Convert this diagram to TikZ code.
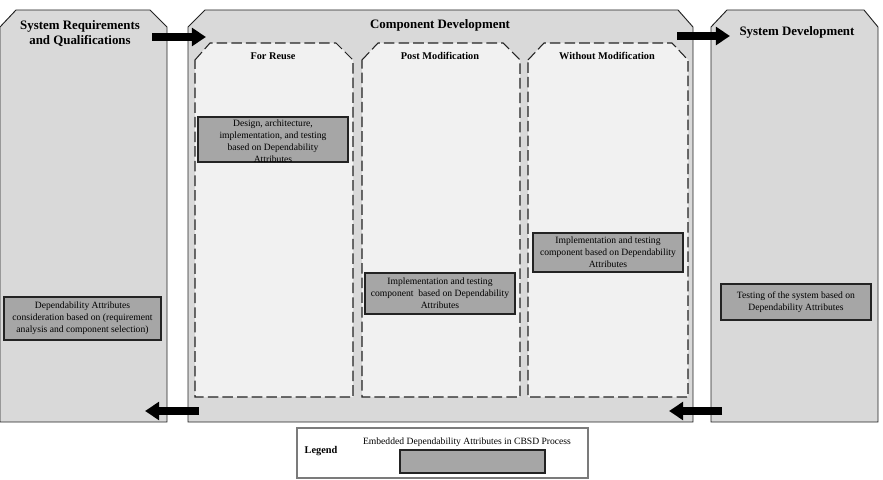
\documentclass[tikz,border=0pt]{standalone}
\usepackage{fontspec}
\setmainfont{Liberation Serif}
\usetikzlibrary{arrows.meta,positioning}
\definecolor{panelgray}{RGB}{217,217,217}
\definecolor{subgray}{RGB}{241,241,241}
\definecolor{attrgray}{RGB}{166,166,166}
\definecolor{edgegray}{RGB}{35,35,35}

\begin{document}
\begin{tikzpicture}[
  x=0.03cm, y=-0.03cm,
  panel/.style={draw=edgegray, line width=0.8pt, fill=panelgray},
  subpanel/.style={draw=edgegray, line width=0.9pt, fill=subgray, dash pattern=on 9pt off 3.5pt},
  title/.style={font=\bfseries\fontsize{11}{13}\selectfont, align=center},
  subtitle/.style={font=\bfseries\fontsize{8.8}{10}\selectfont},
  attr/.style={draw=edgegray, line width=0.9pt, fill=attrgray, inner sep=0pt},
  attrtext/.style={align=center, font=\fontsize{8.2}{10.3}\selectfont},
  flow/.style={-{Triangle[length=12pt,width=15pt]}, line width=7.5pt}
]
\useasboundingbox (0,0) rectangle (883,480);

% three stages
\draw[panel] (0,27) -- (16,10) -- (150,10) -- (167,27) -- (167,422) -- (0,422) -- cycle;
\draw[panel] (188,27) -- (205,10) -- (678,10) -- (693,27) -- (693,422) -- (188,422) -- cycle;
\draw[panel] (711,27) -- (727,10) -- (864,10) -- (878,27) -- (878,422) -- (711,422) -- cycle;

% component development kinds
\draw[subpanel] (195,60) -- (210,43) -- (336,43) -- (353,60) -- (353,397) -- (195,397) -- cycle;
\draw[subpanel] (362,60) -- (378,43) -- (503,43) -- (520,60) -- (520,397) -- (362,397) -- cycle;
\draw[subpanel] (528,60) -- (544,43) -- (672,43) -- (688,60) -- (688,397) -- (528,397) -- cycle;

\node[title] (reqtitle) at (80,33.5) {System Requirements\\and Qualifications};
\node[title] (comptitle) at (440,25) {Component Development};
\node[title] (systitle) at (797,32) {System Development};

\node[subtitle] (reuse) at (273,56) {For Reuse};
\node[subtitle] (postmod) at (440,56) {Post Modification};
\node[subtitle] (withoutmod) at (607,56) {Without Modification};

% embedded dependability attributes
\node[attr, minimum width=4.71cm, minimum height=1.29cm] (reqattr) at (82.5,318.5) {};
\node[attrtext] (reqattrtext) at (reqattr) {Dependability Attributes\\consideration based on (requirement\\analysis and component selection)};

\node[attr, minimum width=4.5cm, minimum height=1.35cm] (reuseattr) at (273,139.5) {};
\node[attrtext] (reuseattrtext) at (273,141) {Design, architecture,\\implementation, and testing\\based on Dependability\\Attributes};

\node[attr, minimum width=4.5cm, minimum height=1.23cm] (postattr) at (440,293.5) {};
\node[attrtext] (postattrtext) at (postattr) {Implementation and testing\\component\ \ based on Dependability\\Attributes};

\node[attr, minimum width=4.5cm, minimum height=1.17cm] (withoutattr) at (608,252.5) {};
\node[attrtext] (withoutattrtext) at (withoutattr) {Implementation and testing\\component based on Dependability\\Attributes};

\node[attr, minimum width=4.5cm, minimum height=1.08cm] (sysattr) at (796,302) {};
\node[attrtext] (sysattrtext) at (sysattr) {Testing of the system based on\\Dependability Attributes};

% flow between stages
\coordinate (reqout) at (152,37);
\coordinate (compin) at (206,37);
\coordinate (compout) at (677,36);
\coordinate (sysin) at (730,36);
\coordinate (sysback) at (722,411);
\coordinate (compback) at (669,411);
\coordinate (compret) at (199,411);
\coordinate (reqback) at (145,411);
\draw[flow] (reqout) -- (compin);
\draw[flow] (compout) -- (sysin);
\draw[flow] (sysback) -- (compback);
\draw[flow] (compret) -- (reqback);

% legend
\node[draw=edgegray!60, line width=0.9pt, minimum width=8.73cm, minimum height=1.5cm] (legend) at (442.5,453) {};
\node[subtitle] (legendlabel) at (321,451) {Legend};
\node[attrtext] (legendtext) at (467,442) {Embedded Dependability Attributes in CBSD Process};
\node[attr, minimum width=4.35cm, minimum height=0.69cm] (legendattr) at (472.5,461.5) {};
\end{tikzpicture}
\end{document}
